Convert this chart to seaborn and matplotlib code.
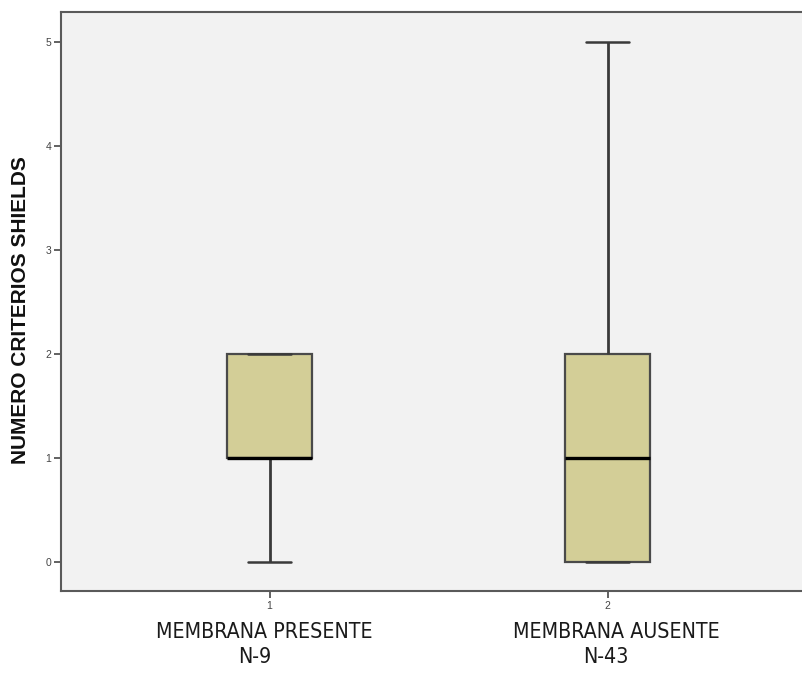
import numpy as np
import pandas as pd
import seaborn as sns
import matplotlib
matplotlib.use("Agg")
import matplotlib.pyplot as plt

# Shields criteria score counts per group
scores = [0, 1, 2, 3, 4, 5]
counts_presente = [1, 4, 4, 0, 0, 0]    # N = 9
counts_ausente = [12, 10, 11, 5, 3, 2]  # N = 43
group_codes = ["1", "2"]
group_titles = ["MEMBRANA PRESENTE", "MEMBRANA AUSENTE"]
group_sizes = ["N-9", "N-43"]

rows = []
for code, counts in zip(group_codes, [counts_presente, counts_ausente]):
    for s, c in zip(scores, counts):
        rows += [(code, s)] * c
df = pd.DataFrame(rows, columns=["grupo", "criterios"])

sns.set_style("ticks")
fig = plt.figure(figsize=(8.02, 6.73), dpi=100)
ax = fig.add_axes([61 / 802, 82 / 673, 1 - 61 / 802, 579 / 673])
ax.set_facecolor("#f2f2f2")

sns.boxplot(data=df, x="grupo", y="criterios", order=group_codes, ax=ax,
            width=0.25, color="#d3ce97", saturation=1, linewidth=1.6,
            whis=1.5, fliersize=0,
            boxprops=dict(edgecolor="#4a4a4a"),
            whiskerprops=dict(color="#3a3a3a", linewidth=2),
            capprops=dict(color="#3a3a3a", linewidth=1.8),
            medianprops=dict(color="black", linewidth=2.4))

ax.set_xlim(-0.617, 1.575)
ax.set_ylim(-0.28, 5.29)
ax.set_yticks(scores)
ax.tick_params(axis="both", direction="out", length=5, width=1.3,
               color="#555555", labelsize=7.5, labelcolor="#444444", pad=2)
for lab in ax.get_xticklabels() + ax.get_yticklabels():
    lab.set_family("Liberation Sans")
ax.set_xlabel("")
ax.set_ylabel("NUMERO CRITERIOS SHIELDS", fontsize=15, fontweight="bold",
              family="Liberation Sans", color="#111111")
ax.yaxis.set_label_coords(-0.042, 0.485)
for side in ["left", "bottom", "top"]:
    ax.spines[side].set_visible(True)
    ax.spines[side].set_color("#5a5a5a")
    ax.spines[side].set_linewidth(1.5)
ax.spines["right"].set_visible(False)

# group captions under the axis
title_x = [-0.015, 1.027]
size_x = [-0.043, 0.994]
cap_font = dict(fontsize=15.3, family="DejaVu Sans", fontstretch="condensed",
                color="#1a1a1a", clip_on=False, ha="center", va="baseline")
for tx, sx, title, size in zip(title_x, size_x, group_titles, group_sizes):
    ax.text(tx, -0.732, title, **cap_font)
    ax.text(sx, -0.972, size, **cap_font)

fig.savefig("out.png", dpi=100, facecolor="white")
